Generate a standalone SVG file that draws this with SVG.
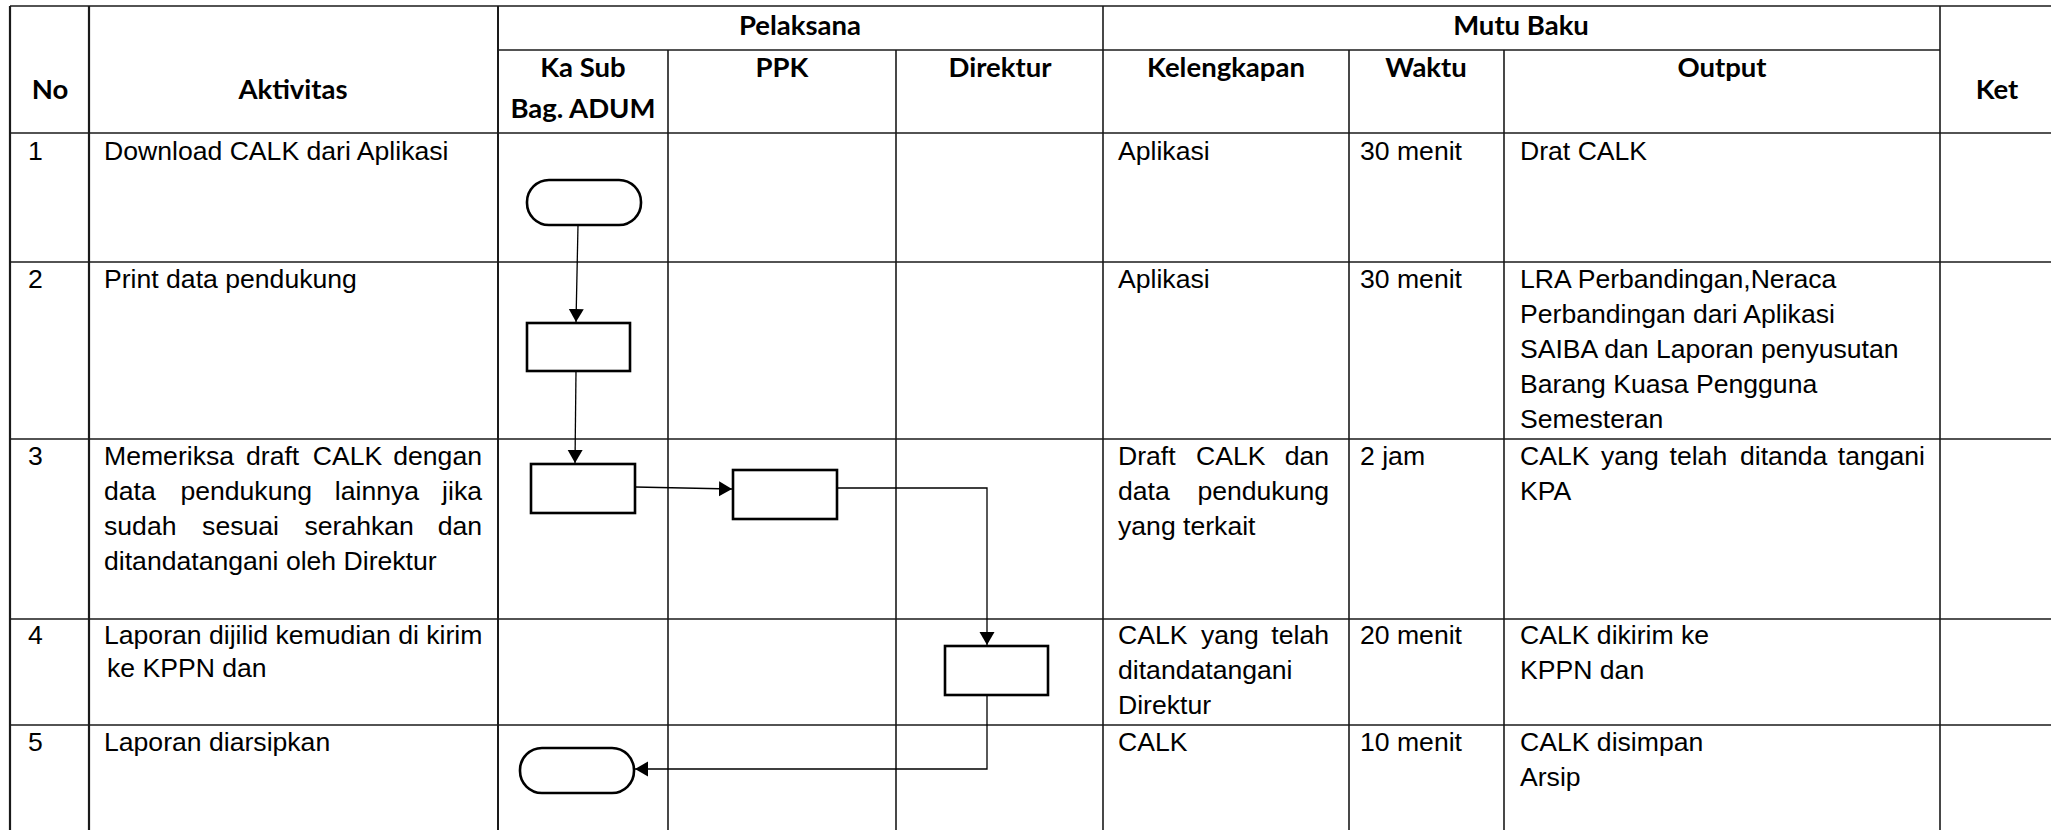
<svg xmlns="http://www.w3.org/2000/svg" width="2051" height="830" viewBox="0 0 2051 830">
<style>
.grid{stroke:#1a1a1a;stroke-width:1.6;fill:none}
.h{font-family:Lato,"Open Sans","Liberation Sans",sans-serif;font-weight:bold;font-size:27.5px;fill:#000;text-anchor:middle}
.t{font-family:"Liberation Sans",Arial,sans-serif;font-size:26.6px;fill:#000}
.e{text-anchor:end}
.shape{fill:#fff;stroke:#000;stroke-width:2.6}
.conn{fill:none;stroke:#000;stroke-width:1.3}
</style>
<defs>
<marker id="arr" markerUnits="userSpaceOnUse" markerWidth="14" markerHeight="16" refX="13" refY="7.5" orient="auto">
<path d="M0,0 L13,7.5 L0,15 z" fill="#000"/>
</marker>
</defs>
<rect width="2051" height="830" fill="#fff"/>
<g id="table">
<line class="grid" x1="10" y1="6" x2="2051" y2="6"/>
<line class="grid" x1="498" y1="50" x2="1940" y2="50"/>
<line class="grid" x1="10" y1="133" x2="2051" y2="133"/>
<line class="grid" x1="10" y1="262" x2="2051" y2="262"/>
<line class="grid" x1="10" y1="439" x2="2051" y2="439"/>
<line class="grid" x1="10" y1="619" x2="2051" y2="619"/>
<line class="grid" x1="10" y1="725" x2="2051" y2="725"/>
<line class="grid" x1="10" y1="6" x2="10" y2="830" style="stroke-width:2.2"/>
<line class="grid" x1="89" y1="6" x2="89" y2="830" style="stroke-width:2.2"/>
<line class="grid" x1="498" y1="6" x2="498" y2="830" style="stroke-width:2"/>
<line class="grid" x1="668" y1="50" x2="668" y2="830"/>
<line class="grid" x1="896" y1="50" x2="896" y2="830"/>
<line class="grid" x1="1103" y1="6" x2="1103" y2="830"/>
<line class="grid" x1="1349" y1="50" x2="1349" y2="830"/>
<line class="grid" x1="1504" y1="50" x2="1504" y2="830"/>
<line class="grid" x1="1940" y1="6" x2="1940" y2="830"/>
</g>
<g id="header">
<text class="h" x="50" y="99">No</text>
<text class="h" x="293" y="99">Aktivitas</text>
<text class="h" x="800" y="35">Pelaksana</text>
<text class="h" x="1521" y="35">Mutu Baku</text>
<text class="h" x="583" y="77">Ka Sub</text>
<text class="h" x="583" y="118">Bag. ADUM</text>
<text class="h" x="782" y="77">PPK</text>
<text class="h" x="1000" y="77">Direktur</text>
<text class="h" x="1226" y="77">Kelengkapan</text>
<text class="h" x="1426" y="77">Waktu</text>
<text class="h" x="1722" y="77">Output</text>
<text class="h" x="1997" y="99">Ket</text>
</g>
<g id="row1">
<text class="t" x="28" y="160">1</text>
<text class="t" x="104" y="160">Download CALK dari Aplikasi</text>
<text class="t" x="1118" y="160">Aplikasi</text>
<text class="t" x="1360" y="160">30 menit</text>
<text class="t" x="1520" y="160">Drat CALK</text>
</g>
<g id="row2">
<text class="t" x="28" y="288">2</text>
<text class="t" x="104" y="288">Print data pendukung</text>
<text class="t" x="1118" y="288">Aplikasi</text>
<text class="t" x="1360" y="288">30 menit</text>
<text class="t" x="1520" y="288">LRA Perbandingan,Neraca</text>
<text class="t" x="1520" y="323">Perbandingan dari Aplikasi</text>
<text class="t" x="1520" y="358">SAIBA dan Laporan penyusutan</text>
<text class="t" x="1520" y="393">Barang Kuasa Pengguna</text>
<text class="t" x="1520" y="428">Semesteran</text>
</g>
<g id="row3">
<text class="t" x="28" y="465">3</text>
<text class="t" y="465"><tspan x="104">Memeriksa</tspan><tspan x="246">draft</tspan><tspan x="312.7">CALK</tspan></text>
<text class="t e" x="482" y="465">dengan</text>
<text class="t" y="500"><tspan x="104">data</tspan><tspan x="180.4">pendukung</tspan><tspan x="334.8">lainnya</tspan></text>
<text class="t e" x="482" y="500">jika</text>
<text class="t" y="535"><tspan x="104">sudah</tspan><tspan x="202.1">sesuai</tspan><tspan x="304.5">serahkan</tspan></text>
<text class="t e" x="482" y="535">dan</text>
<text class="t" x="104" y="570">ditandatangani oleh Direktur</text>
<text class="t" y="465"><tspan x="1118">Draft</tspan><tspan x="1196">CALK</tspan></text>
<text class="t e" x="1329" y="465">dan</text>
<text class="t" x="1118" y="500">data</text>
<text class="t e" x="1329" y="500">pendukung</text>
<text class="t" x="1118" y="535">yang terkait</text>
<text class="t" x="1360" y="465">2 jam</text>
<text class="t" y="465"><tspan x="1520">CALK</tspan><tspan x="1601">yang</tspan><tspan x="1669.5">telah</tspan><tspan x="1740">ditanda</tspan></text>
<text class="t e" x="1925" y="465">tangani</text>
<text class="t" x="1520" y="500">KPA</text>
</g>
<g id="row4">
<text class="t" x="28" y="644">4</text>
<text class="t" x="104" y="644">Laporan dijilid kemudian di kirim</text>
<text class="t" x="107" y="677">ke KPPN dan</text>
<text class="t" y="644"><tspan x="1118">CALK</tspan><tspan x="1201">yang</tspan></text>
<text class="t e" x="1329" y="644">telah</text>
<text class="t" x="1118" y="679">ditandatangani</text>
<text class="t" x="1118" y="714">Direktur</text>
<text class="t" x="1360" y="644">20 menit</text>
<text class="t" x="1520" y="644">CALK dikirim ke</text>
<text class="t" x="1520" y="679">KPPN dan</text>
</g>
<g id="row5">
<text class="t" x="28" y="751">5</text>
<text class="t" x="104" y="751">Laporan diarsipkan</text>
<text class="t" x="1118" y="751">CALK</text>
<text class="t" x="1360" y="751">10 menit</text>
<text class="t" x="1520" y="751">CALK disimpan</text>
<text class="t" x="1520" y="786">Arsip</text>
</g>
<g id="connectors">
<path class="conn" d="M578,225 L576,322" marker-end="url(#arr)"/>
<path class="conn" d="M576,371 L575,463" marker-end="url(#arr)"/>
<path class="conn" d="M635,487 L732,489" marker-end="url(#arr)"/>
<path class="conn" d="M837,488 L987,488 L987,645" marker-end="url(#arr)"/>
<path class="conn" d="M987,695 L987,769 L635,769" marker-end="url(#arr)"/>
</g>
<g id="node-start">
<rect class="shape" x="527" y="180" width="114" height="45" rx="22" ry="22"/>
</g>
<g id="node-print">
<rect class="shape" x="527" y="323" width="103" height="48"/>
</g>
<g id="node-periksa">
<rect class="shape" x="531" y="464" width="104" height="49"/>
</g>
<g id="node-ppk">
<rect class="shape" x="733" y="470" width="104" height="49"/>
</g>
<g id="node-direktur">
<rect class="shape" x="945" y="646" width="103" height="49"/>
</g>
<g id="node-end">
<rect class="shape" x="520" y="748" width="114" height="45" rx="22" ry="22"/>
</g>
</svg>
